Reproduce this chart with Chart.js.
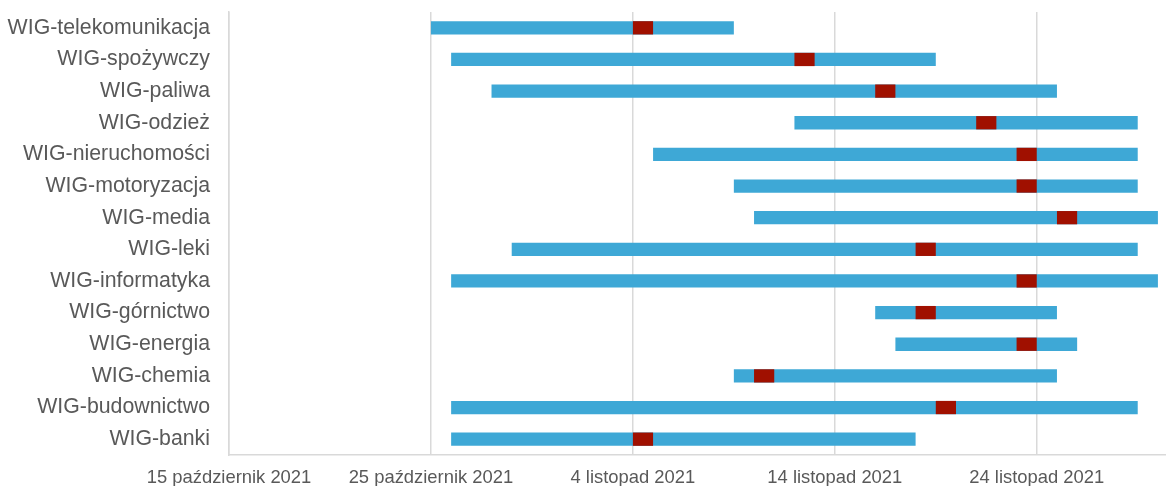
<!DOCTYPE html>
<html>
<head>
<meta charset="utf-8">
<script src="https://cdn.jsdelivr.net/npm/chart.js@4"></script>
<style>
    html, body { margin: 0; padding: 0; background: #fff; }
    #wrap { width: 1166px; height: 486px; position: relative; }
</style>
</head>
<body>
<div id="wrap"><canvas id="sectorChart"></canvas></div>
<script>
// Sector indices: start of the run, the marked day, and the end of the run
const categories = [
    'WIG-telekomunikacja', 'WIG-spożywczy', 'WIG-paliwa', 'WIG-odzież',
    'WIG-nieruchomości', 'WIG-motoryzacja', 'WIG-media', 'WIG-leki',
    'WIG-informatyka', 'WIG-górnictwo', 'WIG-energia', 'WIG-chemia',
    'WIG-budownictwo', 'WIG-banki'
];
const startDates = [
    '2021-10-25', '2021-10-26', '2021-10-28', '2021-11-12',
    '2021-11-05', '2021-11-09', '2021-11-10', '2021-10-29',
    '2021-10-26', '2021-11-16', '2021-11-17', '2021-11-09',
    '2021-10-26', '2021-10-26'
];
const markDates = [
    '2021-11-04', '2021-11-12', '2021-11-16', '2021-11-21',
    '2021-11-23', '2021-11-23', '2021-11-25', '2021-11-18',
    '2021-11-23', '2021-11-18', '2021-11-23', '2021-11-10',
    '2021-11-19', '2021-11-04'
];
const endDates = [
    '2021-11-09', '2021-11-19', '2021-11-25', '2021-11-29',
    '2021-11-29', '2021-11-29', '2021-11-30', '2021-11-29',
    '2021-11-30', '2021-11-25', '2021-11-26', '2021-11-25',
    '2021-11-29', '2021-11-18'
];
const tickDates = ['2021-10-15', '2021-10-25', '2021-11-04', '2021-11-14', '2021-11-24'];
const tickLabels = ['15 październik 2021', '25 październik 2021', '4 listopad 2021', '14 listopad 2021', '24 listopad 2021'];
const axisStart = '2021-10-15';
const axisEndDays = 46.4;

const dayMs = 86400000;
const baseTime = Date.parse(axisStart + 'T00:00:00Z');
const toDay = d => (Date.parse(d + 'T00:00:00Z') - baseTime) / dayMs;

const spanData = categories.map((_, i) => [toDay(startDates[i]), toDay(endDates[i])]);
const markData = categories.map((_, i) => [toDay(markDates[i]), toDay(markDates[i]) + 1]);
const tickDays = tickDates.map(toDay);

const fontFamily = '"Liberation Sans", Arial, sans-serif';
const textColor = '#595959';
const gridColor = '#d9d9d9';

new Chart(document.getElementById('sectorChart').getContext('2d'), {
    type: 'bar',
    data: {
        labels: categories,
        datasets: [
            {
                label: 'znacznik',
                data: markData,
                backgroundColor: '#a01000',
                borderWidth: 0,
                grouped: false,
                barPercentage: 0.42,
                categoryPercentage: 1,
                order: 0
            },
            {
                label: 'okres',
                data: spanData,
                backgroundColor: '#3ea8d6',
                borderWidth: 0,
                grouped: false,
                barPercentage: 0.42,
                categoryPercentage: 1,
                order: 1
            }
        ]
    },
    options: {
        indexAxis: 'y',
        responsive: true,
        maintainAspectRatio: false,
        animation: false,
        layout: { padding: { top: 12, right: 0, left: 0, bottom: 0 } },
        plugins: {
            legend: { display: false },
            tooltip: { enabled: false }
        },
        scales: {
            x: {
                type: 'linear',
                min: 0,
                max: axisEndDays,
                afterBuildTicks: scale => { scale.ticks = tickDays.map(v => ({ value: v })); },
                afterFit: scale => {
                    scale.height = 31;
                    scale.paddingLeft = 0;
                    scale.paddingRight = 0;
                },
                ticks: {
                    color: textColor,
                    font: { family: fontFamily, size: 18.4 },
                    padding: 12,
                    maxRotation: 0,
                    autoSkip: false,
                    callback: (value) => {
                        const idx = tickDays.indexOf(value);
                        return idx >= 0 ? tickLabels[idx] : '';
                    }
                },
                grid: { color: gridColor, lineWidth: 1.5, drawTicks: false },
                border: { color: gridColor, width: 1.5 }
            },
            y: {
                afterFit: scale => {
                    scale.width = 229;
                    scale.paddingTop = 0;
                    scale.paddingBottom = 0;
                },
                ticks: { color: textColor, font: { family: fontFamily, size: 21.3 }, padding: 19, autoSkip: false },
                grid: { display: false, drawTicks: false },
                border: { color: gridColor, width: 1.5 }
            }
        }
    }
});
</script>
</body>
</html>
